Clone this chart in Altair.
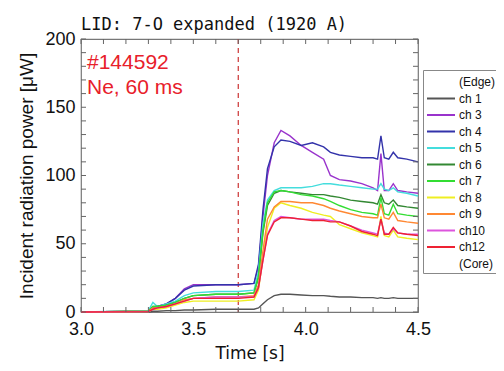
import altair as alt
import pandas as pd

time = [3.0, 3.30, 3.32, 3.34, 3.38, 3.42, 3.46, 3.50, 3.60, 3.70, 3.77, 3.79, 3.81, 3.83,
        3.86, 3.89, 3.93, 3.98, 4.03, 4.08, 4.11, 4.15, 4.20, 4.25, 4.30, 4.32, 4.335, 4.35,
        4.37, 4.39, 4.41, 4.45, 4.50]

ch1 = [0, 0, 0.5, 0.5, 1, 1, 1.5, 1.5, 2, 2, 2, 3, 6, 9, 12, 13, 13, 12.5, 12, 12, 11.5, 11,
       11, 10.5, 10.5, 10, 10.5, 10, 10, 10.5, 10, 10, 10]
ch3 = [0, 0.5, 3, 4, 6, 10, 17, 20, 20, 20, 21, 33, 70, 100, 124, 133, 129, 122, 117, 112, 100,
       97, 96, 94, 91, 89, 116, 89, 89, 94, 89, 88, 87]
ch4 = [0, 0.5, 3, 4, 6, 10, 16, 19, 20, 20, 21, 35, 75, 105, 121, 126, 125, 122, 124, 121, 117,
       115, 114, 113, 113, 112, 129, 113, 112, 117, 113, 112, 110]
ch5 = [0, 1, 7, 4, 6, 8, 12, 14, 15, 15, 16, 30, 65, 82, 89, 91, 91, 91, 92, 94, 94, 93, 92,
       91, 90, 90, 94, 90, 89, 91, 88, 87, 85]
ch6 = [0, 0.5, 4, 4, 5, 7, 10, 12, 13, 13, 14, 25, 58, 78, 87, 89, 88, 87, 86, 86, 85, 84, 82,
       81, 80, 79, 86, 80, 79, 82, 78, 77, 76]
ch7 = [0, 0.5, 4, 4, 5, 7, 10, 12, 13, 13, 14, 26, 60, 80, 88, 89, 88, 86, 85, 83, 81, 78, 75,
       73, 72, 71, 84, 72, 71, 79, 72, 71, 70]
ch8 = [0, 0.3, 2, 2, 3, 5, 7, 8, 8, 8, 9, 16, 40, 62, 76, 80, 78, 76, 73, 71, 70, 64, 61, 58,
       56, 55, 70, 56, 55, 60, 55, 54, 53]
ch9 = [0, 0.5, 3, 3, 4, 6, 9, 10, 11, 11, 12, 20, 45, 68, 77, 81, 81, 80, 80, 78, 76, 74, 72,
       70, 69, 69, 79, 69, 68, 73, 67, 66, 65]
ch10 = [0, 0.3, 2, 3, 4, 6, 8, 10, 11, 11, 11, 18, 38, 57, 67, 70, 69, 68, 68, 68, 67, 66, 63,
        60, 58, 57, 68, 58, 57, 61, 58, 57, 57]
ch12 = [0, 0.3, 2, 3, 4, 6, 8, 10, 10, 10, 11, 18, 38, 56, 66, 69, 69, 68, 67, 67, 66, 66, 63,
        59, 57, 56, 68, 57, 57, 62, 58, 57, 56]

channels = ["ch 1", "ch 3", "ch 4", "ch 5", "ch 6", "ch 7", "ch 8", "ch 9", "ch10", "ch12"]
series = [ch1, ch3, ch4, ch5, ch6, ch7, ch8, ch9, ch10, ch12]
colors = ["#555555", "#9933cc", "#3333aa", "#44dddd", "#338833", "#33dd33", "#eeee22",
          "#ff8833", "#dd55dd", "#ee2233"]
legend_domain = ["(Edge)"] + channels + ["(Core)"]
legend_range = ["transparent"] + colors + ["transparent"]

x_ticks = [round(3.0 + 0.1 * i, 1) for i in range(16)]
y_ticks = list(range(0, 201, 10))
x_labels = [3.0, 3.5, 4.0, 4.5]
y_labels = [0, 50, 100, 150, 200]
shot_time = 3.7
annotation = ["#144592", "Ne, 60 ms"]

rows = []
for name, vals in zip(channels, series):
    for i, (t, v) in enumerate(zip(time, vals)):
        rows.append({"time": t, "power": v, "ch": name, "order": i})
df = pd.DataFrame(rows)

W, H = 337, 273
FONT = "Liberation Sans"
FONT2 = "DejaVu Sans"

xs = alt.Scale(domain=[3.0, 4.5], nice=False)
ys = alt.Scale(domain=[0, 200], nice=False)

lines = alt.Chart(df).mark_line(strokeWidth=1.4).encode(
    x=alt.X("time:Q", scale=xs,
            axis=alt.Axis(values=x_labels, format=".1f", ticks=False, domain=False, grid=False,
                          labelFlush=False, labelFontSize=18, labelColor="#111",
                          labelPadding=8, labelFont=FONT,
                          title="Time [s]", titleFontSize=17, titleFontWeight="normal",
                          titleFont=FONT2, titleColor="#111", titlePadding=7)),
    y=alt.Y("power:Q", scale=ys,
            axis=alt.Axis(values=y_labels, ticks=False, domain=False, grid=False,
                          labelFlush=False, labelFontSize=18, labelColor="#111",
                          labelPadding=6, labelFont=FONT,
                          title="Incident radiation power [μW]", titleFontSize=19,
                          titleFont=FONT, titleFontWeight="normal", titleColor="#111",
                          titlePadding=8)),
    color=alt.Color("ch:N", scale=alt.Scale(domain=legend_domain, range=legend_range),
                    legend=alt.Legend(title=None, orient="none", legendX=342, legendY=31,
                                      symbolType="M-1,0H2.5", symbolSize=256,
                                      symbolStrokeWidth=2, labelFontSize=12,
                                      labelFont=FONT, labelColor="#111",
                                      padding=3, rowPadding=1.5, strokeColor="#888",
                                      fillColor="white", labelOffset=15)),
    order="order:Q",
)

tdf_x = pd.DataFrame({"t": x_ticks})
tdf_y = pd.DataFrame({"v": y_ticks})

xt_bot = alt.Chart(tdf_x).mark_rule(color="#666").encode(
    x=alt.X("t:Q", scale=xs), y=alt.value(H), y2=alt.value(H - 5))
xt_top = alt.Chart(tdf_x).mark_rule(color="#666").encode(
    x=alt.X("t:Q", scale=xs), y=alt.value(0), y2=alt.value(5))
yt_l = alt.Chart(tdf_y).mark_rule(color="#666").encode(
    y=alt.Y("v:Q", scale=ys), x=alt.value(0), x2=alt.value(5))
yt_r = alt.Chart(tdf_y).mark_rule(color="#666").encode(
    y=alt.Y("v:Q", scale=ys), x=alt.value(W), x2=alt.value(W - 5))

vline = alt.Chart(pd.DataFrame({"t": [shot_time]})).mark_rule(
    color="#cc3333", strokeDash=[5, 4], strokeWidth=1.2).encode(x=alt.X("t:Q", scale=xs))

ann1 = alt.Chart(pd.DataFrame({"txt": [annotation[0]]})).mark_text(
    align="left", baseline="top", fontSize=21, color="#e8202a", font=FONT).encode(
    x=alt.value(6), y=alt.value(13), text="txt:N")
ann2 = alt.Chart(pd.DataFrame({"txt": [annotation[1]]})).mark_text(
    align="left", baseline="top", fontSize=21, color="#e8202a", font=FONT).encode(
    x=alt.value(6), y=alt.value(38), text="txt:N")

chart = alt.layer(vline, lines, xt_bot, xt_top, yt_l, yt_r, ann1, ann2).properties(
    width=W, height=H,
    title=alt.TitleParams("LID: 7-O expanded (1920 A)", anchor="start", frame="group",
                          fontSize=17, fontWeight="normal", color="#111", offset=6, dy=10,
                          font="DejaVu Sans Mono"),
    autosize=alt.AutoSizeParams(type="none"),
    padding={"left": 73, "top": 31, "right": 78, "bottom": 55},
).configure_view(stroke="#777", strokeWidth=1.2)

chart.save("out.html", embed_options={"renderer": "svg", "actions": False})
